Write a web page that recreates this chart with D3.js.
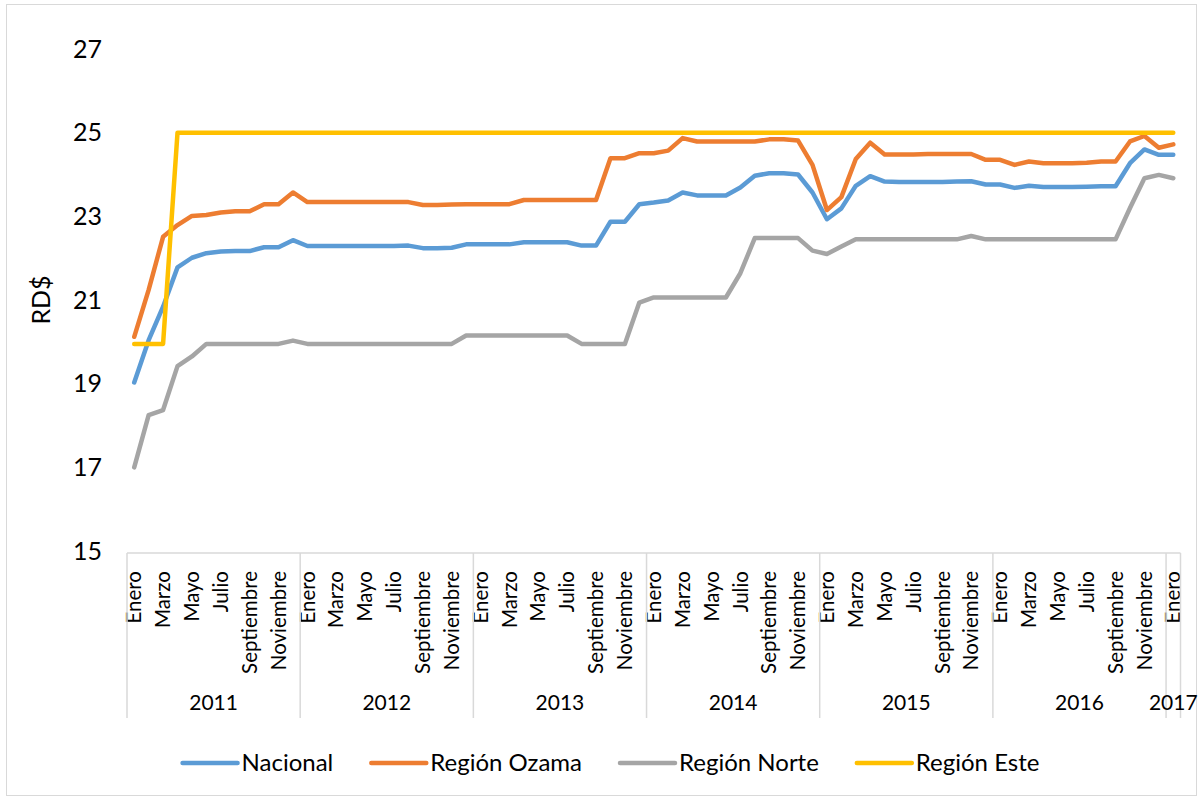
<!DOCTYPE html>
<html>
<head>
<meta charset="utf-8">
<script src="https://cdn.jsdelivr.net/npm/d3@7"></script>
<style>
  body { margin: 0; background: #fff; }
  text { font-family: Lato, "Noto Sans", sans-serif; fill: #000; }
</style>
</head>
<body>
<div id="chart"></div>
<script>
var years = ['2011', '2012', '2013', '2014', '2015', '2016', '2017'];
var monthNames = ['Enero', 'Febrero', 'Marzo', 'Abril', 'Mayo', 'Junio', 'Julio',
  'Agosto', 'Septiembre', 'Octubre', 'Noviembre', 'Diciembre'];

// monthly values, Enero 2011 .. Enero 2017
var nacional = [19.03, 20.04, 20.84, 21.78, 22.01, 22.12, 22.16, 22.17, 22.17, 22.26, 22.26, 22.43,
  22.29, 22.29, 22.29, 22.29, 22.29, 22.29, 22.29, 22.30, 22.24, 22.24, 22.25, 22.33,
  22.33, 22.33, 22.33, 22.38, 22.38, 22.38, 22.38, 22.30, 22.30, 22.87, 22.87, 23.29,
  23.33, 23.38, 23.57, 23.50, 23.50, 23.50, 23.69, 23.97, 24.03, 24.03, 24.00, 23.57,
  22.93, 23.19, 23.73, 23.96, 23.83, 23.82, 23.82, 23.82, 23.82, 23.83, 23.84, 23.76,
  23.76, 23.68, 23.73, 23.70, 23.70, 23.70, 23.71, 23.72, 23.72, 24.27, 24.60, 24.47,
  24.47];
var ozama = [20.12, 21.24, 22.51, 22.79, 23.01, 23.03, 23.09, 23.12, 23.12, 23.29, 23.29, 23.57,
  23.34, 23.34, 23.34, 23.34, 23.34, 23.34, 23.34, 23.34, 23.27, 23.27, 23.28, 23.29,
  23.29, 23.29, 23.29, 23.39, 23.39, 23.39, 23.39, 23.39, 23.39, 24.39, 24.39, 24.51,
  24.51, 24.57, 24.87, 24.79, 24.79, 24.79, 24.79, 24.79, 24.84, 24.84, 24.81, 24.23,
  23.15, 23.46, 24.37, 24.76, 24.48, 24.48, 24.48, 24.49, 24.49, 24.49, 24.49, 24.35,
  24.35, 24.23, 24.31, 24.27, 24.27, 24.27, 24.28, 24.31, 24.31, 24.79, 24.92, 24.64,
  24.72];
var norte = [17.00, 18.25, 18.37, 19.42, 19.65, 19.95, 19.95, 19.95, 19.95, 19.95, 19.95, 20.03,
  19.95, 19.95, 19.95, 19.95, 19.95, 19.95, 19.95, 19.95, 19.95, 19.95, 19.95, 20.15,
  20.15, 20.15, 20.15, 20.15, 20.15, 20.15, 20.15, 19.95, 19.95, 19.95, 19.95, 20.94,
  21.06, 21.06, 21.06, 21.06, 21.06, 21.06, 21.64, 22.48, 22.48, 22.48, 22.48, 22.18,
  22.10, 22.28, 22.45, 22.45, 22.45, 22.45, 22.45, 22.45, 22.45, 22.45, 22.53, 22.45,
  22.45, 22.45, 22.45, 22.45, 22.45, 22.45, 22.45, 22.45, 22.45, 23.20, 23.91, 23.99,
  23.91];
var este = [19.95, 19.95, 19.95, 25, 25, 25, 25, 25, 25, 25, 25, 25,
  25, 25, 25, 25, 25, 25, 25, 25, 25, 25, 25, 25,
  25, 25, 25, 25, 25, 25, 25, 25, 25, 25, 25, 25,
  25, 25, 25, 25, 25, 25, 25, 25, 25, 25, 25, 25,
  25, 25, 25, 25, 25, 25, 25, 25, 25, 25, 25, 25,
  25, 25, 25, 25, 25, 25, 25, 25, 25, 25, 25, 25,
  25];

var seriesNames = ['Nacional', 'Región Ozama', 'Región Norte', 'Región Este'];
var seriesColors = ['#5B9BD5', '#ED7D31', '#A5A5A5', '#FFC000'];
var yTicks = [15, 17, 19, 21, 23, 25, 27];

var width = 1203, height = 800;
var plot = {left: 127, right: 1180.5, top: 49, bottom: 551};

var svg = d3.select('#chart').append('svg')
    .attr('width', width)
    .attr('height', height);

svg.append('rect')
    .attr('x', 6.5).attr('y', 4.5)
    .attr('width', 1190).attr('height', 791)
    .attr('fill', '#fff')
    .attr('stroke', '#d9d9d9');

var idx = d3.range(nacional.length);

var xScale = d3.scaleBand()
    .domain(idx)
    .range([plot.left, plot.right])
    .padding(0);

var yScale = d3.scaleLinear()
    .domain([15, 27])
    .range([plot.bottom, plot.top]);

function xc(i) { return xScale(i) + xScale.bandwidth() / 2; }

// y axis
var yAxis = svg.append('g')
    .attr('transform', 'translate(105,0)')
    .call(d3.axisLeft(yScale).tickValues(yTicks).tickSize(0).tickPadding(3));
yAxis.select('.domain').remove();
yAxis.selectAll('text')
    .style('font-family', 'Lato, sans-serif')
    .style('font-size', '25px')
    .attr('fill', '#000');

svg.append('text')
    .attr('transform', 'translate(50,300) rotate(-90)')
    .attr('text-anchor', 'middle')
    .style('font-size', '25px')
    .text('RD$');

// category axis (months)
var axisY = 553;
var xAxis = svg.append('g')
    .attr('transform', 'translate(0,' + axisY + ')')
    .call(d3.axisBottom(xScale)
      .tickValues(idx.filter(function(i) { return i % 2 == 0; }))
      .tickSize(0)
      .tickFormat(function(i) { return monthNames[i % 12]; }));
xAxis.select('.domain').remove();
xAxis.selectAll('text')
    .attr('transform', 'rotate(-90)')
    .attr('x', -18)
    .attr('y', 0)
    .attr('dy', '0.35em')
    .style('text-anchor', 'end')
    .style('font-family', 'Lato, sans-serif')
    .style('font-size', '20.5px')
    .attr('fill', '#000');

svg.append('line')
    .attr('x1', plot.left).attr('x2', plot.right)
    .attr('y1', axisY).attr('y2', axisY)
    .attr('stroke', '#d9d9d9').attr('stroke-width', 1.5);

// year groups
var bounds = years.map(function(y, k) { return k * 12; });
bounds.push(nacional.length);

svg.selectAll('.ysep')
    .data(bounds)
  .enter().append('line')
    .attr('class', 'ysep')
    .attr('x1', function(b) { return b < nacional.length ? xScale(b) : plot.right; })
    .attr('x2', function(b) { return b < nacional.length ? xScale(b) : plot.right; })
    .attr('y1', axisY).attr('y2', 718)
    .attr('stroke', '#d9d9d9').attr('stroke-width', 1.5);

svg.selectAll('.year')
    .data(years)
  .enter().append('text')
    .attr('class', 'year')
    .attr('x', function(y, k) {
      var a = xScale(k * 12);
      var b = k == years.length - 1 ? plot.right : xScale(k * 12 + 12);
      return (a + b) / 2;
    })
    .attr('y', 710)
    .attr('text-anchor', 'middle')
    .style('font-size', '21px')
    .text(function(y) { return y; });

// lines
var line = d3.line()
    .x(function(d, i) { return xc(i); })
    .y(function(d) { return yScale(d); });

var allSeries = [nacional, ozama, norte, este];

svg.selectAll('.serie')
    .data(allSeries)
  .enter().append('path')
    .attr('class', 'serie')
    .attr('d', line)
    .attr('fill', 'none')
    .attr('stroke', function(d, k) { return seriesColors[k]; })
    .attr('stroke-width', 4.5)
    .attr('stroke-linejoin', 'round')
    .attr('stroke-linecap', 'round');

// legend
var legend = svg.append('g');
var lx = 0;
seriesNames.forEach(function(name, k) {
  var g = legend.append('g').attr('transform', 'translate(' + lx + ',0)');
  g.append('line')
      .attr('x1', 0).attr('x2', 55)
      .attr('y1', 0).attr('y2', 0)
      .attr('stroke', seriesColors[k])
      .attr('stroke-width', 4.5)
      .attr('stroke-linecap', 'round');
  var t = g.append('text')
      .attr('x', 59)
      .attr('dy', '0.35em')
      .style('font-size', '24px')
      .text(name);
  lx += 59 + t.node().getComputedTextLength() + 38;
});
var legendW = lx - 38;
legend.attr('transform', 'translate(' + (611 - legendW / 2) + ',763)');
</script>
</body>
</html>
